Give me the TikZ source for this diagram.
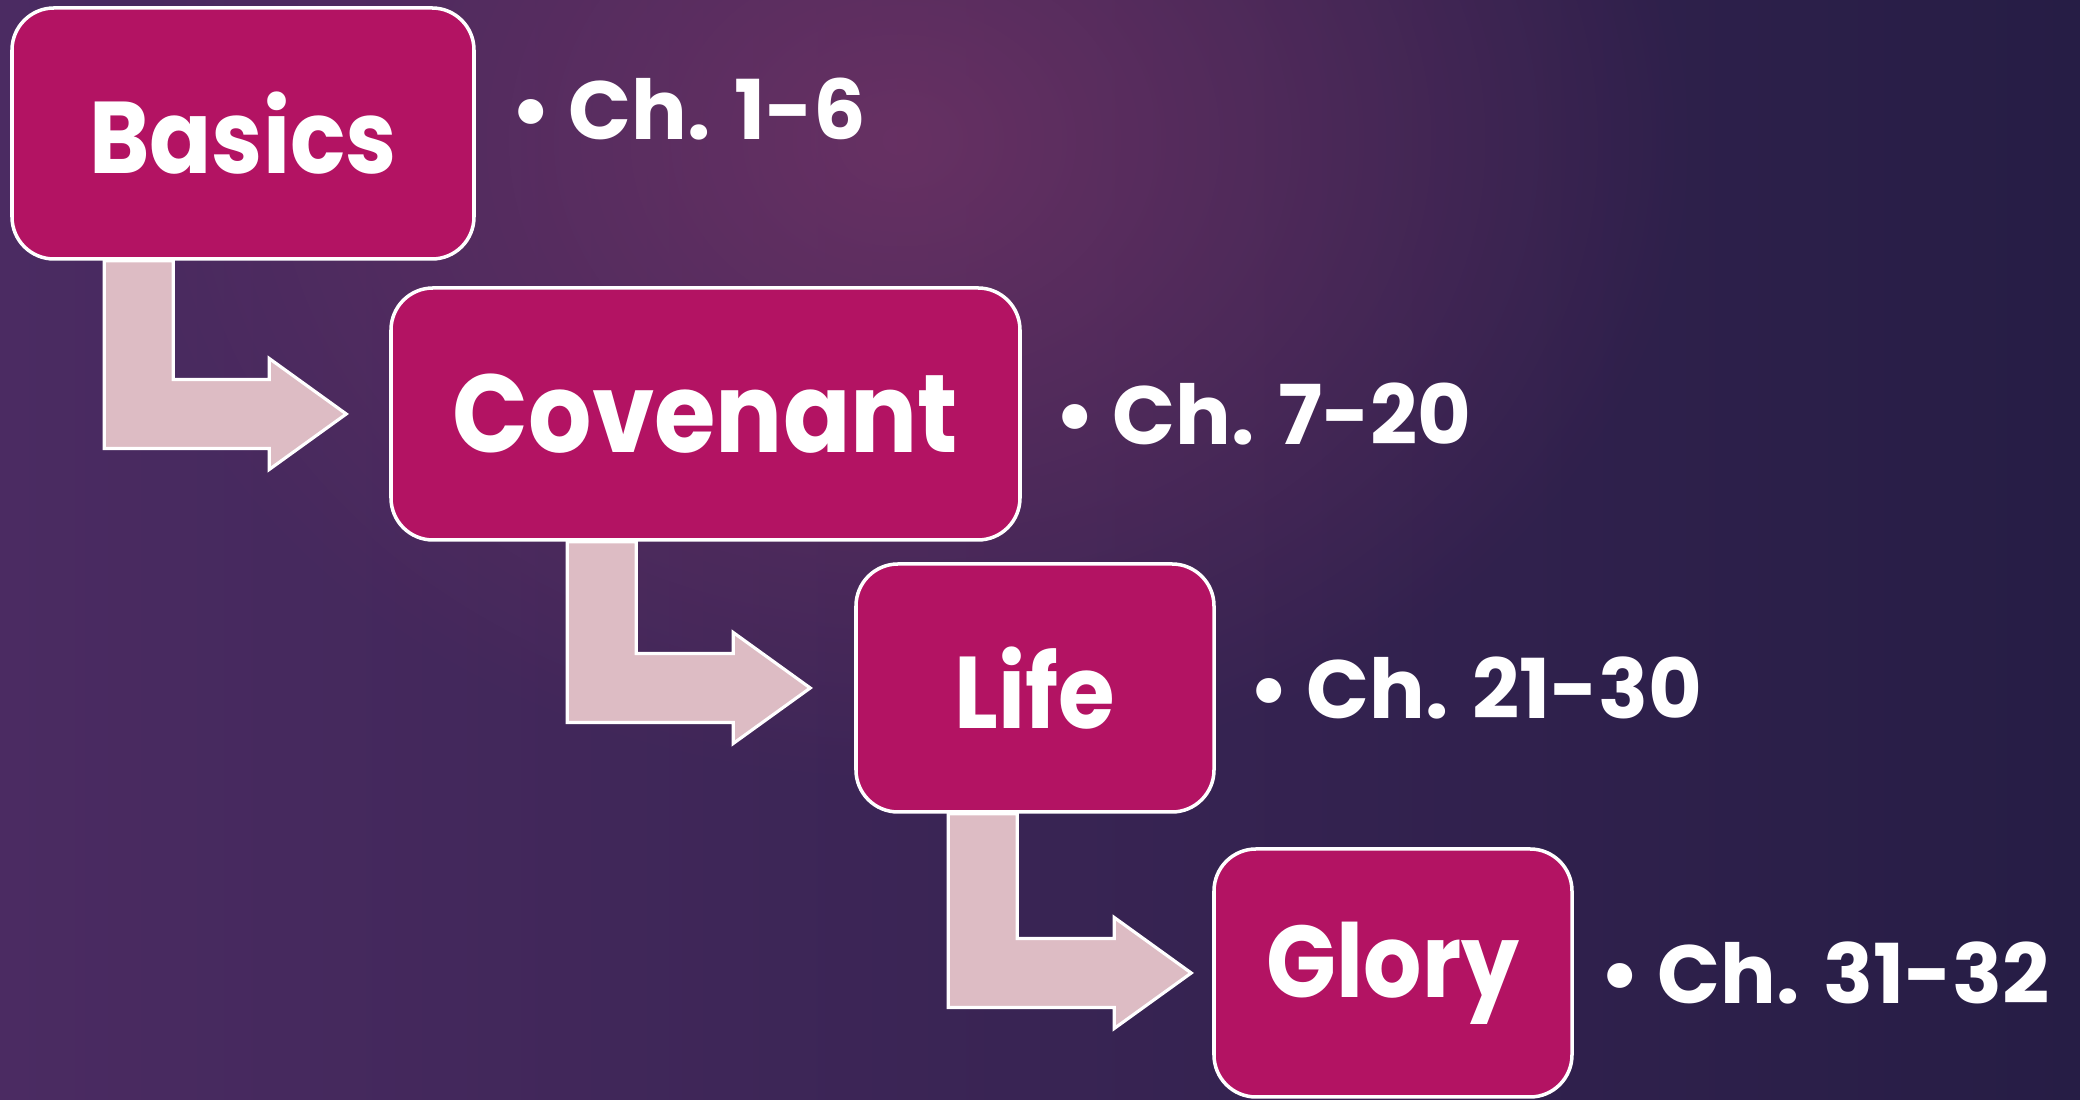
\documentclass[tikz,border=0pt]{standalone}
\usepackage{fontspec}
\setmainfont{Poppins}
\newfontfamily\stagefont{Poppins}[FakeStretch=0.9]
\usetikzlibrary{shapes, arrows, positioning, calc, fadings}

\definecolor{stagecolor}{HTML}{B31363}
\definecolor{arrowcolor}{HTML}{DDBCC4}
\definecolor{bgleft}{HTML}{4B2B62}
\definecolor{bgmid}{HTML}{5F2C5E}
\definecolor{bgright}{HTML}{261D45}
\definecolor{bgglow}{HTML}{7A3669}

\pgfdeclarelayer{backdrop}
\pgfdeclarelayer{arrowlayer}
\pgfsetlayers{backdrop,arrowlayer,main}

\tikzfading[name=glow, inner color=transparent!30, outer color=transparent!100]

% bent arrow from below one stage to the left side of the next
\newcommand{\stepArrow}[4]{%
  \path ($(#1.south west)+(#3,0)$) coordinate (sL)
        ($(#2.west)+(-#4,0)$) coordinate (tp);
  \draw[bent] (sL) -- ++(0.69,0) -- ($(sL |- tp)+(0.69,0.345)$)
    -- ($(tp)+(-0.77,0.345)$) -- ++(0,0.21) -- (tp)
    -- ($(tp)+(-0.77,-0.555)$) -- ++(0,0.21)
    -- ($(sL |- tp)+(0,-0.345)$) -- cycle;
}

\begin{document}
\begin{tikzpicture}

\tikzstyle{stage} = [draw=white, fill=stagecolor, line width=1pt, rounded corners=0.42cm, text=white, font=\stagefont\bfseries\fontsize{29}{35}\selectfont]
\tikzstyle{bent} = [draw=white, fill=arrowcolor, line width=0.9pt, line join=miter]
\tikzstyle{chapter} = [text=white, anchor=west, font=\bfseries\fontsize{23.5}{28}\selectfont]

\useasboundingbox (0,0) rectangle (20.8,11);

%Background
\begin{pgfonlayer}{backdrop}
\clip (0,0) rectangle (20.8,11);
\shade[left color=bgleft, middle color=bgmid, right color=bgright] (0,0) rectangle (20.8,11);
\fill[bgglow, path fading=glow] (9.0,9.6) ellipse (8cm and 6.5cm);
\end{pgfonlayer}

%Creating Stages
\node [stage, minimum width=4.62cm, minimum height=2.51cm] at (2.43,9.665) (basics) {Basics};
\node [stage, minimum width=6.29cm, minimum height=2.52cm, font=\stagefont\bfseries\fontsize{31.5}{38}\selectfont] at (7.055,6.86) (covenant) {Covenant};
\node [stage, minimum width=3.58cm, minimum height=2.48cm] at (10.35,4.12) (life) {Life};
\node [stage, minimum width=3.58cm, minimum height=2.48cm] at (13.93,1.27) (glory) {Glory};

%Chapter Ranges
\node [chapter, right=0.22cm of basics.east, yshift=0.24cm] (ch1) {\textbullet\ Ch. 1-6};
\node [chapter, right=0.20cm of covenant.east] (ch2) {\textbullet\ Ch. 7-20};
\node [chapter, right=0.20cm of life.east] (ch3) {\textbullet\ Ch. 21-30};
\node [chapter, right=0.13cm of glory.east] (ch4) {\textbullet\ Ch. 31-32};

%Connecting Stages
\begin{pgfonlayer}{arrowlayer}
\stepArrow{basics}{covenant}{0.94}{0.43}
\stepArrow{covenant}{life}{1.78}{0.44}
\stepArrow{life}{glory}{0.94}{0.21}
\end{pgfonlayer}

\end{tikzpicture}
\end{document}
